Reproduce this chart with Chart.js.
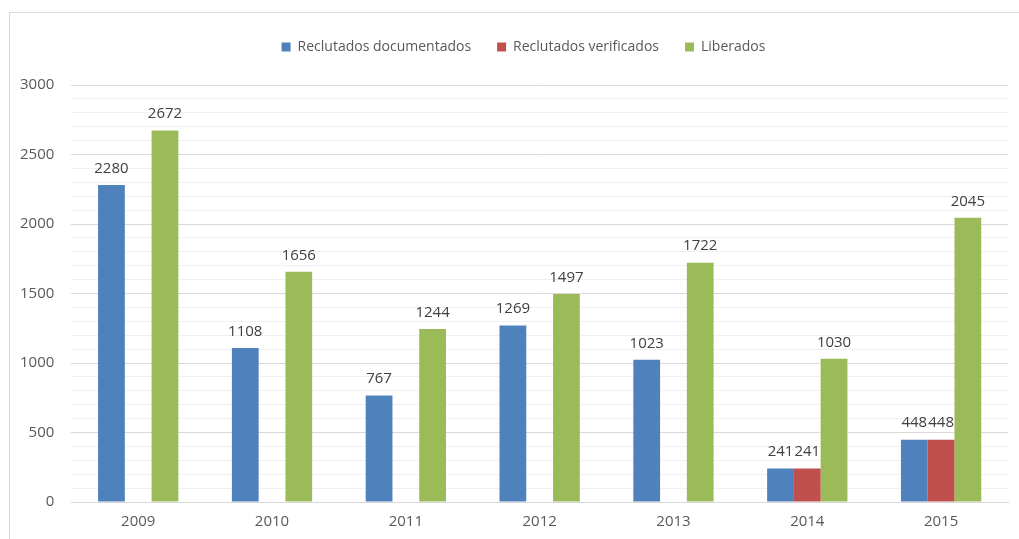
<!DOCTYPE html>
<html>
<head>
<meta charset="utf-8">
<script src="https://cdn.jsdelivr.net/npm/chart.js@4"></script>
<style>
  html, body { margin: 0; padding: 0; background: #fff; }
  #wrap { position: relative; width: 1019px; height: 539px; }
  #frame { position: absolute; left: 9px; top: 12px; right: -2px; bottom: -2px; border: 1px solid #d9d9d9; }
  canvas { position: absolute; left: 0; top: 0; }
</style>
</head>
<body>
<div id="wrap">
  <div id="frame"></div>
  <canvas id="chart" width="1019" height="539"></canvas>
</div>
<script>
(() => {
  "use strict";

  // Data
  const years = ["2009", "2010", "2011", "2012", "2013", "2014", "2015"];
  const documentados = [2280, 1108, 767, 1269, 1023, 241, 448];
  const verificados = [null, null, null, null, null, 241, 448];
  const liberados = [2672, 1656, 1244, 1497, 1722, 1030, 2045];
  const seriesNames = ["Reclutados documentados", "Reclutados verificados", "Liberados"];
  const colors = ["#4f81bd", "#c0504d", "#9bbb59"];

  const FONT = "'Open Sans', sans-serif";

  // Value labels above bars
  const valueLabels = {
    id: "valueLabels",
    afterDatasetsDraw(chart) {
      const { ctx } = chart;
      ctx.save();
      ctx.font = `15px ${FONT}`;
      ctx.fillStyle = "#404040";
      ctx.textAlign = "center";
      ctx.textBaseline = "bottom";
      chart.data.datasets.forEach((ds, i) => {
        chart.getDatasetMeta(i).data.forEach((bar, j) => {
          const v = ds.data[j];
          if (v == null) return;
          ctx.fillText(String(v), bar.x, bar.y - 9);
        });
      });
      ctx.restore();
    }
  };

  // Extra room below the legend, and nudge it right
  const legendGap = {
    id: "legendGap",
    beforeInit(chart) {
      const fit = chart.legend.fit;
      chart.legend.fit = function () {
        fit.call(this);
        this.height += 21;
      };
    },
    afterLayout(chart) {
      chart.legend.left += 18;
      chart.legend.right += 18;
    }
  };

  const ctx = document.querySelector("#chart").getContext("2d");
  new Chart(ctx, {
    type: "bar",
    data: {
      labels: years,
      datasets: [documentados, verificados, liberados].map((d, i) => ({
        label: seriesNames[i],
        data: d,
        backgroundColor: colors[i],
        barPercentage: 1,
        categoryPercentage: 0.6
      }))
    },
    options: {
      responsive: false,
      animation: false,
      layout: { padding: { top: 14, right: 11, bottom: -3, left: 3 } },
      plugins: {
        legend: {
          position: "top",
          labels: {
            boxWidth: 9,
            boxHeight: 9,
            padding: 26,
            color: "#595959",
            font: { family: FONT, size: 14 }
          }
        },
        tooltip: { enabled: false }
      },
      scales: {
        x: {
          grid: { display: false, drawTicks: false, tickLength: 0 },
          border: { color: "#d9d9d9" },
          ticks: { color: "#595959", padding: 11, font: { family: FONT, size: 15 } }
        },
        y: {
          min: 0,
          max: 3000,
          border: { display: false },
          grid: {
            color: (c) => (c.tick && c.tick.value % 500 === 0 ? "#d9d9d9" : "#f0f0f0"),
            drawTicks: false
          },
          ticks: {
            stepSize: 100,
            autoSkip: false,
            maxTicksLimit: 40,
            padding: 17,
            color: "#595959",
            font: { family: FONT, size: 15 },
            callback: (v) => (v % 500 === 0 ? String(v) : "")
          }
        }
      }
    },
    plugins: [valueLabels, legendGap]
  });
})();
</script>
</body>
</html>
